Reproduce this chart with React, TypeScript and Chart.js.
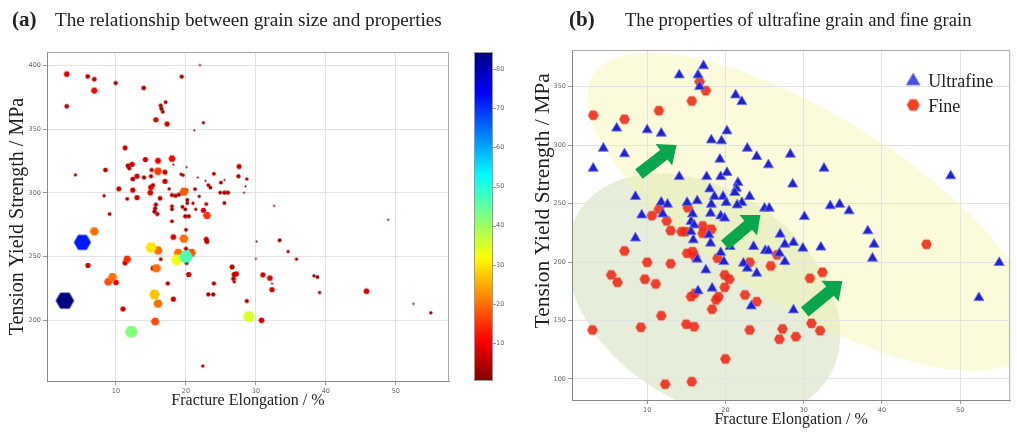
import React, { useEffect, useRef } from "react";
import { Chart, registerables } from "chart.js";
Chart.register(...registerables);

// ---------- Panel (a): elongation, strength, grain size ----------
const aX = [2.96, 2.96, 5.96, 6.9, 6.9, 9.96, 13.96, 19.4, 22.0, 17.1, 16.4, 16.5, 16.7, 15.7, 17.3, 22.5, 21.2, 11.3, 4.2, 8.5,
  11.7, 12.3, 11.9, 14.2, 16.0, 18.0, 15.1, 16.0, 17.0, 18.2, 20.1, 13.0, 12.4, 14.0, 15.0, 17.0, 19.3, 19.6, 10.4, 12.4,
  13.0, 8.3, 11.6, 15.0, 15.3, 14.9, 16.3, 17.6, 18.0, 18.5, 19.0, 19.7, 20.1, 20.2, 21.0, 21.9, 21.3, 21.7, 22.8, 23.2,
  23.5, 24.0, 25.0, 25.5, 24.9, 25.5, 26.0, 25.5, 27.6, 27.5, 28.7, 28.5, 28.3, 32.6, 23.0, 22.5, 18.0, 19.5, 19.9, 20.4,
  21.4, 15.7, 15.6, 15.5, 15.9, 18.0, 20.2, 19.9, 22.9, 9.1, 18.0, 20.0, 6.9, 5.2, 18.2, 19.7, 22.9, 23.0, 20.0, 15.0,
  16.0, 18.9, 18.7, 20.0, 20.8, 16.4, 20.1, 20.4, 11.6, 11.3, 6.0, 15.8, 15.3, 9.5, 8.9, 10.0, 17.4, 18.2, 15.5, 16.0,
  11.0, 2.7, 15.6, 12.2, 26.6, 26.9, 27.2, 26.8, 26.9, 24.0, 23.2, 23.9, 28.7, 29.0, 30.8, 22.4, 30.1, 30.0, 33.3, 31.0,
  32.0, 32.3, 32.3, 48.9, 33.4, 34.6, 35.8, 38.3, 38.8, 39.1, 45.8, 52.5, 55.0];
const aY = [393.1, 367.9, 391.3, 389.1, 380.2, 386.1, 382.2, 391.1, 400.2, 371.1, 368.4, 365.9, 363.5, 357.3, 354.0, 355.0, 349.1, 335.3, 314.1, 318.0,
  321.3, 322.4, 319.3, 326.1, 325.2, 326.9, 318.0, 317.0, 316.3, 322.2, 320.2, 313.1, 310.9, 312.1, 313.1, 309.1, 314.6, 313.9, 303.2, 302.2,
  296.3, 297.8, 295.3, 304.4, 306.1, 300.2, 295.8, 303.2, 298.3, 297.8, 298.7, 301.0, 302.2, 294.6, 291.9, 297.3, 303.0, 312.1, 309.4, 306.1,
  304.2, 315.0, 308.1, 310.1, 300.2, 300.2, 300.2, 292.1, 320.7, 313.1, 310.9, 305.2, 300.2, 289.9, 282.4, 286.4, 289.6, 289.1, 281.7, 281.7,
  287.2, 290.9, 287.9, 285.4, 283.5, 287.2, 292.1, 287.2, 291.3, 283.5, 277.8, 271.1, 269.9, 261.3, 265.4, 264.2, 263.7, 262.0, 256.3, 257.3,
  255.0, 253.1, 247.7, 250.1, 253.1, 248.1, 245.2, 236.1, 248.1, 245.2, 243.2, 241.0, 241.0, 234.1, 230.4, 229.9, 229.1, 216.8, 220.5, 213.3,
  209.1, 215.6, 199.3, 191.3, 242.0, 236.1, 236.6, 232.8, 230.4, 229.1, 220.5, 220.5, 215.3, 203.2, 200.2, 164.4, 262.0, 248.4, 262.4, 235.8,
  233.3, 229.1, 224.2, 279.0, 263.0, 254.1, 248.1, 235.1, 234.1, 222.0, 223.0, 213.1, 206.1];
const aGrain = [8, 5, 5, 5, 10, 4, 5, 4, 0.4, 3, 4, 4, 3, 7, 7, 2, 0.4, 6, 1.5, 5,
  5, 7, 4, 7, 9, 11, 4, 16, 6, 0.4, 0.4, 7, 5, 4, 4, 7, 2, 2, 6, 7,
  7, 2, 3, 8, 4, 8, 5, 2, 4, 4, 4, 18, 2, 3, 2, 2, 3, 0.4, 0.4, 3,
  3, 3, 3, 0.4, 3, 4, 4, 3, 6, 4, 2, 0.4, 0.4, 0.4, 15, 7, 3, 3, 4, 4,
  2, 4, 4, 4, 4, 3, 3, 3, 3, 3, 3, 3, 20, 72, 8, 20, 6, 6, 4, 30,
  20, 20, 33, 47, 18, 3, 4, 7, 14, 7, 7, 20, 6, 20, 17, 8, 4, 7, 27, 20,
  7, 84.3, 17, 42, 6, 7, 7, 5, 2, 4, 4, 4, 4, 35, 8, 2, 0.4, 0.4, 0.4, 7,
  8, 0.4, 7, 0.4, 3, 2, 2, 2, 3, 2, 8, 0.4, 2];

// ---------- Panel (b): ultrafine vs fine ----------
const ufX = [14.1, 17.2, 16.5, 16.7, 21.3, 22.1, 6.1, 10.0, 11.8, 4.4, 7.1, 3.1, 18.2, 19.5, 20.2, 22.8, 24.0, 25.5, 19.3, 14.1,
  17.6, 19.4, 20.2, 18.0, 21.6, 21.4, 21.2, 8.5, 18.6, 19.7, 23.1, 20.1, 22.1, 21.5, 11.8, 12.6, 15.1, 16.4, 18.2, 18.1,
  15.8, 9.3, 12.0, 19.4, 19.9, 15.6, 16.0, 8.5, 25.0, 25.6, 15.6, 17.9, 15.9, 18.1, 16.4, 19.4, 19.8, 17.5, 16.5, 18.3,
  20.6, 22.3, 22.8, 24.0, 23.6, 25.1, 25.5, 23.3, 28.3, 32.6, 28.6, 48.8, 33.4, 34.6, 35.8, 30.1, 27.0, 38.2, 39.0, 38.8,
  27.6, 28.7, 29.9, 32.2, 26.9, 27.6, 28.7, 55.0, 52.4];
const ufY = [360.0, 367.8, 360.0, 350.0, 342.9, 337.2, 314.5, 313.0, 310.2, 297.3, 292.5, 280.2, 304.4, 303.6, 312.1, 297.3, 290.2, 283.1, 287.9, 273.0,
  273.0, 273.0, 276.5, 262.5, 267.9, 263.1, 259.4, 256.0, 256.0, 256.0, 256.0, 250.8, 250.8, 248.8, 251.2, 249.4, 250.8, 252.3, 249.4, 241.7,
  241.1, 240.2, 241.1, 239.4, 237.5, 234.6, 231.7, 220.5, 246.0, 246.0, 226.0, 223.2, 218.9, 216.1, 202.4, 208.0, 200.3, 193.2, 175.3, 177.6,
  213.2, 199.0, 194.7, 190.4, 213.2, 209.8, 209.5, 162.4, 292.2, 280.2, 266.6, 273.7, 248.0, 249.4, 243.7, 238.8, 223.8, 226.6, 215.2, 203.2,
  215.2, 216.6, 211.8, 212.7, 207.5, 200.3, 159.0, 199.5, 169.5];
const fnX = [3.1, 7.1, 11.5, 15.7, 16.7, 17.5, 11.5, 10.6, 12.5, 15.2, 14.4, 14.9, 17.1, 18.2, 13.0, 17.1, 15.1, 15.8, 16.1, 7.1,
  10.0, 13.0, 5.4, 6.2, 9.7, 11.1, 19.0, 19.9, 20.5, 19.9, 19.1, 18.8, 15.6, 16.1, 18.3, 22.5, 24.0, 23.1, 25.8, 11.8,
  9.2, 3.0, 15.0, 16.0, 23.1, 20.0, 12.3, 15.7, 45.7, 26.6, 32.4, 30.8, 31.0, 32.1, 27.3, 26.9, 29.0];
const fnY = [325.6, 322.2, 329.5, 337.8, 354.3, 346.6, 245.2, 239.7, 235.2, 246.5, 226.0, 226.0, 230.9, 228.1, 226.9, 224.6, 207.5, 208.9, 204.6, 209.5,
  199.8, 198.6, 189.0, 182.7, 185.3, 181.3, 203.3, 189.0, 185.3, 178.4, 170.4, 167.6, 170.4, 173.3, 159.6, 171.9, 166.1, 199.8, 196.7, 154.1,
  144.2, 141.9, 146.8, 144.7, 141.9, 117.1, 95.5, 97.7, 215.2, 206.1, 191.3, 186.1, 147.6, 141.3, 142.8, 134.0, 136.2];

// ---------- ticks ----------
const xTicks = [10, 20, 30, 40, 50];
const aYTicks = [200, 250, 300, 350, 400];
const bYTicks = [100, 150, 200, 250, 300, 350];
const cbTicks = [10, 20, 30, 40, 50, 60, 70, 80];

// ---------- annotations of panel (b), in data units ----------
const regionFine = { cx: 17.2, cy: 171.8 };
const regionUltra = { cx: 31.05, cy: 242.9 };
const arrowTails = [[8.95, 275.4], [19.93, 214.6], [30.14, 157.3]];
const arrowTips = [[13.75, 300.2], [24.48, 240.3], [34.94, 183.8]];

const SERIF = "'Liberation Serif', 'Times New Roman', serif";
const SANS = "'DejaVu Sans', sans-serif";

const gMin = Math.min(...aGrain);
const gMax = Math.max(...aGrain);

function jet(t: number) {
  const c = (v: number) => Math.max(0, Math.min(1, v));
  return [c(Math.min(4 * t - 1.5, -4 * t + 4.5)), c(Math.min(4 * t - 0.5, -4 * t + 3.5)), c(Math.min(4 * t + 0.5, -4 * t + 2.5))];
}
function grainColor(v: number) {
  const t = (v - gMin) / (gMax - gMin);
  const [r, g, b] = jet(1 - t);
  return `rgb(${Math.round(r * 255)},${Math.round(g * 255)},${Math.round(b * 255)})`;
}
function grainRadius(v: number) {
  return Math.sqrt(v) * 0.95 + 0.5;
}

const hexCache: Record<string, HTMLCanvasElement> = {};
function hexagon(color: string, r: number) {
  const key = color + "|" + r.toFixed(2);
  if (hexCache[key]) return hexCache[key];
  const size = Math.ceil(r * 2) + 2;
  const c = document.createElement("canvas");
  c.width = size;
  c.height = size;
  const g = c.getContext("2d")!;
  g.fillStyle = color;
  g.beginPath();
  for (let k = 0; k < 6; k++) {
    const a = (k * Math.PI) / 3;
    const px = size / 2 + r * Math.cos(a);
    const py = size / 2 + r * Math.sin(a);
    if (k === 0) g.moveTo(px, py);
    else g.lineTo(px, py);
  }
  g.closePath();
  g.fill();
  hexCache[key] = c;
  return c;
}

const frame = {
  id: "frame",
  beforeDatasetsDraw(chart: any) {
    const { ctx, chartArea } = chart;
    const { left, right, top, bottom } = chartArea;
    ctx.save();
    ctx.strokeStyle = "#aaaaaa";
    ctx.lineWidth = 1;
    ctx.beginPath();
    ctx.moveTo(left, top + 0.5);
    ctx.lineTo(right - 0.5, top + 0.5);
    ctx.lineTo(right - 0.5, bottom);
    ctx.stroke();
    ctx.restore();
  },
};

const colorbar = {
  id: "colorbar",
  afterDraw(chart: any) {
    const { ctx, chartArea } = chart;
    const s = chart.scales.cb;
    const x0 = chartArea.right + 25;
    const w = 19;
    const top = Math.round(s.top);
    const bottom = Math.round(s.bottom);
    ctx.save();
    for (let py = top; py < bottom; py++) {
      const v = s.getValueForPixel(py + 0.5);
      ctx.fillStyle = grainColor(v);
      ctx.fillRect(x0, py, w, 1);
    }
    ctx.strokeStyle = "#999";
    ctx.lineWidth = 1;
    ctx.strokeRect(x0 + 0.5, top + 0.5, w - 1, bottom - top - 1);
    ctx.beginPath();
    for (const t of cbTicks) {
      const py = Math.round(s.getPixelForValue(t)) + 0.5;
      ctx.moveTo(x0 + w, py);
      ctx.lineTo(x0 + w + 3, py);
    }
    ctx.stroke();
    ctx.restore();
  },
};

const regions = {
  id: "regions",
  beforeDraw(chart: any) {
    const { ctx, chartArea } = chart;
    const { x, y } = chart.scales;
    ctx.save();
    ctx.beginPath();
    ctx.rect(chartArea.left, chartArea.top, chartArea.right - chartArea.left, chartArea.bottom - chartArea.top);
    ctx.clip();
    ctx.beginPath();
    ctx.ellipse(x.getPixelForValue(regionFine.cx), y.getPixelForValue(regionFine.cy), 150, 105, (35 * Math.PI) / 180, 0, Math.PI * 2);
    ctx.fillStyle = "#e6eeda";
    ctx.fill();
    ctx.beginPath();
    ctx.ellipse(x.getPixelForValue(regionUltra.cx), y.getPixelForValue(regionUltra.cy), 258, 96, (32 * Math.PI) / 180, 0, Math.PI * 2);
    ctx.fillStyle = "rgba(245,245,170,0.42)";
    ctx.fill();
    ctx.restore();
  },
};

const arrows = {
  id: "arrows",
  afterDatasetsDraw(chart: any) {
    const { ctx } = chart;
    const { x, y } = chart.scales;
    ctx.save();
    ctx.fillStyle = "#0aa64e";
    arrowTails.forEach((tail, i) => {
      const tip = arrowTips[i];
      const tx = x.getPixelForValue(tail[0]);
      const ty = y.getPixelForValue(tail[1]);
      const px = x.getPixelForValue(tip[0]);
      const py = y.getPixelForValue(tip[1]);
      const len = Math.hypot(px - tx, py - ty);
      const dx = (px - tx) / len;
      const dy = (py - ty) / len;
      const nx = -dy;
      const ny = dx;
      const headLen = 16;
      const headW = 13.5;
      const shaftW = 6;
      const bx = px - dx * headLen;
      const by = py - dy * headLen;
      ctx.beginPath();
      ctx.moveTo(tx + nx * shaftW, ty + ny * shaftW);
      ctx.lineTo(bx + nx * shaftW, by + ny * shaftW);
      ctx.lineTo(bx + nx * headW, by + ny * headW);
      ctx.lineTo(px, py);
      ctx.lineTo(bx - nx * headW, by - ny * headW);
      ctx.lineTo(bx - nx * shaftW, by - ny * shaftW);
      ctx.lineTo(tx - nx * shaftW, ty - ny * shaftW);
      ctx.closePath();
      ctx.fill();
    });
    ctx.restore();
  },
};

const legendB = {
  id: "legendB",
  afterDraw(chart: any) {
    const { ctx, chartArea } = chart;
    const lx = chartArea.right - 97;
    const top = chartArea.top;
    const ds = chart.data.datasets;
    ctx.save();
    const r = 8;
    const cy = top + 31;
    ctx.beginPath();
    ctx.moveTo(lx, cy - r);
    ctx.lineTo(lx + r * 0.866, cy + r / 2);
    ctx.lineTo(lx - r * 0.866, cy + r / 2);
    ctx.closePath();
    ctx.fillStyle = "#4c4ce6";
    ctx.fill();
    ctx.strokeStyle = "#8888ff";
    ctx.lineWidth = 1;
    ctx.stroke();
    const hx = hexagon("#ee4422", 6.5);
    ctx.drawImage(hx, lx - hx.width / 2, top + 55 - hx.height / 2);
    ctx.fillStyle = "#222";
    ctx.font = `18px ${SERIF}`;
    ctx.textBaseline = "alphabetic";
    ctx.textAlign = "left";
    ctx.fillText(ds[0].label, chartArea.right - 82, top + 37);
    ctx.fillText(ds[1].label, chartArea.right - 82, top + 62);
    ctx.restore();
  },
};

const tickFont = { family: SANS, size: 6.5 };

function makeAxis(min: number, max: number, ticks: number[], fit: (s: any) => void, title: string, titleFont: number, titlePad: any) {
  return {
    type: "linear",
    min,
    max,
    afterBuildTicks: (s: any) => {
      s.ticks = ticks.map((v) => ({ value: v }));
    },
    afterFit: fit,
    grid: { color: "#e3e3e3", tickColor: "#999", tickLength: 4, lineWidth: 1 },
    border: { color: "#888" },
    ticks: { font: tickFont, color: "#666", padding: 2, maxRotation: 0, autoSkip: false },
    title: { display: true, text: title, color: "#222", font: { family: SERIF, size: titleFont, lineHeight: 1.2 }, padding: titlePad },
  };
}

export default function App() {
  const refA = useRef<HTMLCanvasElement>(null);
  const refB = useRef<HTMLCanvasElement>(null);

  useEffect(() => {
    const ptsA = aX
      .map((x, i) => ({ x, y: aY[i], v: aGrain[i] }))
      .sort((p, q) => p.v - q.v);

    const chartA = new Chart(refA.current!, {
      type: "scatter",
      data: {
        datasets: [
          {
            label: "grain size",
            data: ptsA,
            pointStyle: (c: any) => hexagon(grainColor(c.raw.v), grainRadius(c.raw.v)),
            pointRadius: (c: any) => grainRadius(c.raw.v),
          } as any,
        ],
      },
      options: {
        animation: false,
        responsive: false,
        layout: { padding: { top: 52, left: 0, right: 0, bottom: 0 } },
        plugins: { legend: { display: false }, tooltip: { enabled: false } },
        scales: {
          x: makeAxis(0.14, 57.6, xTicks, (s: any) => { s.height = 32; }, "Fracture Elongation / %", 16, { top: 0, bottom: 3 }) as any,
          y: makeAxis(152.6, 410.4, aYTicks, (s: any) => { s.width = 47; }, "Tension Yield Strength / MPa", 20, { top: 6, bottom: 0 }) as any,
          cb: {
            type: "linear",
            axis: "y",
            position: "right",
            min: gMin,
            max: gMax,
            afterBuildTicks: (s: any) => {
              s.ticks = cbTicks.map((v) => ({ value: v }));
            },
            afterFit: (s: any) => { s.width = 71; },
            grid: { display: false, drawTicks: false },
            border: { display: false },
            ticks: { font: tickFont, color: "#666", padding: 47, autoSkip: false },
          } as any,
        },
      },
      plugins: [frame, colorbar],
    } as any);

    const chartB = new Chart(refB.current!, {
      type: "scatter",
      data: {
        datasets: [
          {
            label: "Ultrafine",
            data: ufX.map((x, i) => ({ x, y: ufY[i] })),
            pointStyle: "triangle",
            pointRadius: 5.8,
            backgroundColor: "#2222cc",
            borderColor: "rgba(110,110,255,0.9)",
            borderWidth: 1,
          },
          {
            label: "Fine",
            data: fnX.map((x, i) => ({ x, y: fnY[i] })),
            pointStyle: hexagon("rgba(240,38,20,0.88)", 5.4),
            pointRadius: 5.4,
          } as any,
        ],
      },
      options: {
        animation: false,
        responsive: false,
        layout: { padding: { top: 50, left: 0, right: 1, bottom: 0 } },
        plugins: { legend: { display: false }, tooltip: { enabled: false } },
        scales: {
          x: makeAxis(0.39, 56.4, xTicks, (s: any) => { s.height = 32; }, "Fracture Elongation / %", 16, { top: 0, bottom: 3 }) as any,
          y: makeAxis(82, 381.4, bYTicks, (s: any) => { s.width = 52; }, "         Tension Yield Strength / MPa", 21.5, { top: 10, bottom: 0 }) as any,
        },
      },
      plugins: [regions, frame, arrows, legendB],
    } as any);

    return () => {
      chartA.destroy();
      chartB.destroy();
    };
  }, []);

  const titleStyle: React.CSSProperties = {
    position: "absolute",
    fontFamily: SERIF,
    color: "#222",
    whiteSpace: "nowrap",
    margin: 0,
  };

  return (
    <div style={{ position: "absolute", left: 0, top: 0, width: 1017, height: 432, background: "#fff", overflow: "hidden" }}>
      <canvas ref={refA} width={520} height={432} style={{ position: "absolute", left: 0, top: 0 }} />
      <canvas ref={refB} width={497} height={432} style={{ position: "absolute", left: 520, top: 0 }} />
      <div style={{ ...titleStyle, left: 12, top: 9, fontSize: 21, lineHeight: "21px", fontWeight: "bold" }}>(a)</div>
      <div style={{ ...titleStyle, left: 55, top: 10, fontSize: 19.2, lineHeight: "19px" }}>The relationship between grain size and properties</div>
      <div style={{ ...titleStyle, left: 569, top: 9, fontSize: 21, lineHeight: "21px", fontWeight: "bold" }}>(b)</div>
      <div style={{ ...titleStyle, left: 625, top: 10, fontSize: 18.6, lineHeight: "19px" }}>The properties of ultrafine grain and fine grain</div>
    </div>
  );
}
